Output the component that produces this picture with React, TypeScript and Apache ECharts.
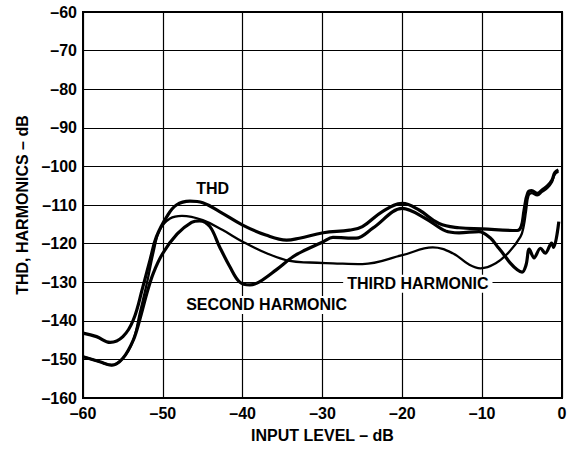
import React, { useEffect, useRef } from "react";
import * as echarts from "echarts";

// ---- data ----
const xTickValues = [-60, -50, -40, -30, -20, -10, 0];
const yTickValues = [-160, -150, -140, -130, -120, -110, -100, -90, -80, -70, -60];

const thdX = [-60, -58.3, -56.6, -55, -53.7, -52.5, -51.6, -50.8, -49.5, -48.3, -46.6, -45, -42.9, -40, -37.1, -34.5, -32.9, -29.9, -26.6, -25, -22.5, -20, -17.9, -15.4, -12.9, -10, -5.6, -5.1, -4.75, -4.3, -3.8, -3.1, -2.5, -1.8, -1.25, -0.9, -0.45];
const thdY = [-143.2, -144.1, -145.6, -144.1, -139.8, -131.2, -124.2, -118.2, -113, -110, -109, -109.4, -111.7, -115.2, -117.8, -119.1, -118.6, -117.2, -116.5, -115.6, -111.7, -109.6, -111.3, -114.8, -115.9, -116.2, -116.6, -115.5, -111.3, -106.9, -106.3, -107, -106.1, -105, -103.5, -101.6, -100.9];

const secondX = [-60, -57.9, -56.4, -55, -53.7, -52.9, -52, -51.2, -50, -48.2, -46.4, -45.4, -44.1, -42.9, -41.6, -40.4, -39.1, -37.9, -35.8, -33.7, -32.3, -29.9, -28.7, -25.8, -23.7, -20, -17.1, -14.6, -12.9, -10.4, -9, -8, -7.3, -6.5, -5.6, -5, -4.5, -4.1, -3.5, -2.7, -2.1, -1.3, -1.05, -0.4];
const secondY = [-149.3, -150.6, -151.5, -149.7, -145, -139.8, -132.9, -127.7, -122.5, -117.5, -114.5, -114.1, -115.6, -120.8, -126, -129.9, -130.7, -129.9, -126.8, -123.4, -121.8, -119.5, -118.4, -118.6, -116, -110.9, -113.5, -116.7, -117.2, -116.9, -118.5, -121, -122.8, -125, -126.8, -127.4, -125.5, -121.4, -123.7, -121.2, -122.5, -119.9, -121, -114.3];

const thirdX = [-60, -57.9, -56.4, -55, -53.7, -52.9, -52, -51.2, -50.4, -49.1, -47.6, -45, -42.5, -40, -37, -34.1, -31.6, -28.7, -25, -20, -16.2, -13.7, -11.6, -10.2, -8.3, -6.6, -5.2, -4.8, -4.5, -4.2, -3.8, -3.1, -2.5, -1.8, -1.25, -0.9, -0.45];
const thirdY = [-149.3, -150.6, -151.5, -149.7, -145, -138.1, -130.3, -122.5, -116.5, -113.5, -112.8, -113.9, -116.5, -119.5, -122.5, -124.5, -124.9, -125.1, -125.3, -123, -121, -122.5, -125.5, -126.4, -125.1, -122.1, -118.2, -115.5, -111.5, -107.6, -106.9, -107.5, -106.6, -105.5, -104, -102.1, -101.4];

const zip = (xs: number[], ys: number[]) => xs.map((x, i) => [x, ys[i]]);

const FONT = "'Liberation Sans', Arial, Helvetica, sans-serif";
const FS = 16;
const fmt = (v: number) => (v < 0 ? "\u2013" + Math.abs(v) : String(v));

export default function App() {
  const ref = useRef<HTMLDivElement>(null);
  useEffect(() => {
    if (!ref.current) return;
    const chart = echarts.init(ref.current, undefined, { renderer: "svg" });
    chart.setOption({
      animation: false,
      backgroundColor: "#fff",
      grid: {
        left: 83,
        right: 11,
        top: 12,
        bottom: 52,
        show: true,
        borderColor: "#000",
        borderWidth: 2,
        backgroundColor: "transparent",
      },
      xAxis: {
        type: "value",
        min: xTickValues[0],
        max: xTickValues[xTickValues.length - 1],
        interval: 10,
        name: "INPUT LEVEL \u2013 dB",
        nameLocation: "middle",
        nameGap: 29,
        nameTextStyle: { fontFamily: FONT, fontWeight: "bold", fontSize: FS, color: "#000" },
        axisLine: { show: true, lineStyle: { color: "#000", width: 2 } },
        axisTick: { show: false },
        axisLabel: { formatter: fmt, fontFamily: FONT, fontWeight: "bold", fontSize: FS, color: "#000", margin: 7 },
        splitLine: { show: true, lineStyle: { color: "#000", width: 1.2 } },
      },
      yAxis: {
        type: "value",
        min: yTickValues[0],
        max: yTickValues[yTickValues.length - 1],
        interval: 10,
        name: "THD, HARMONICS \u2013 dB",
        nameLocation: "middle",
        nameGap: 51,
        nameTextStyle: { fontFamily: FONT, fontWeight: "bold", fontSize: FS, color: "#000" },
        axisLine: { show: true, lineStyle: { color: "#000", width: 2 } },
        axisTick: { show: false },
        axisLabel: { formatter: fmt, fontFamily: FONT, fontWeight: "bold", fontSize: FS, color: "#000", margin: 6 },
        splitLine: { show: true, lineStyle: { color: "#000", width: 1.2 } },
      },
      series: [
        {
          name: "THD",
          type: "line",
          data: zip(thdX, thdY),
          showSymbol: false,
          smooth: 0.4,
          lineStyle: { color: "#000", width: 3.2 },
          z: 3,
        },
        {
          name: "SECOND HARMONIC",
          type: "line",
          data: zip(secondX, secondY),
          showSymbol: false,
          smooth: 0.35,
          lineStyle: { color: "#000", width: 3.2 },
          z: 3,
        },
        {
          name: "THIRD HARMONIC",
          type: "line",
          data: zip(thirdX, thirdY),
          showSymbol: false,
          smooth: 0.4,
          lineStyle: { color: "#000", width: 2.3 },
          z: 3,
        },
      ],
    });

    const labels = [
      { text: "THD", at: [-43.75, -105.6] },
      { text: "SECOND HARMONIC", at: [-37, -135.9] },
      { text: "THIRD HARMONIC", at: [-18.06, -130.4] },
    ];
    chart.setOption({
      graphic: labels.map((l) => {
        const p = chart.convertToPixel({ gridIndex: 0 }, l.at) as number[];
        return {
          type: "text",
          x: p[0],
          y: p[1],
          z: 10,
          style: {
            text: l.text,
            fill: "#000",
            font: `bold ${FS}px ${FONT}`,
            align: "center",
            verticalAlign: "middle",
            backgroundColor: "#fff",
            padding: [1, 4],
          },
        };
      }),
    });
    return () => chart.dispose();
  }, []);
  return (
    <div
      ref={ref}
      style={{ position: "absolute", left: 0, top: 0, width: 573, height: 450, background: "#fff" }}
    />
  );
}
